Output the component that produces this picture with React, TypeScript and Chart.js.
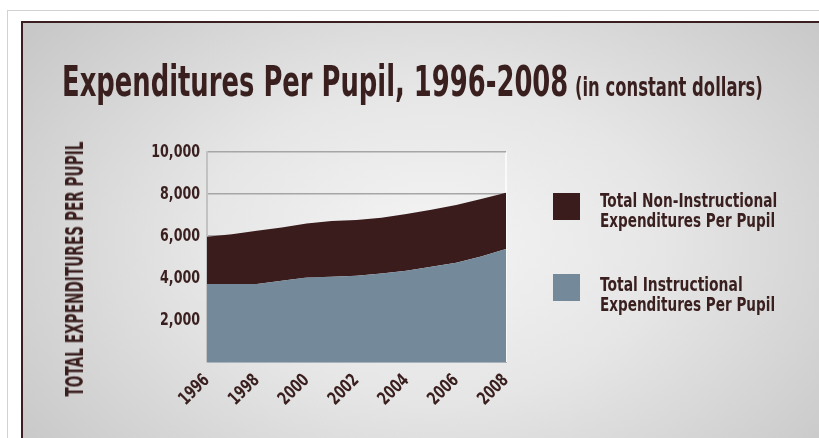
import React, { useEffect, useLayoutEffect, useRef } from 'react';
import { Chart, registerables } from 'chart.js';

Chart.register(...registerables);

// ---- data ----
const years = ['1996', '1997', '1998', '1999', '2000', '2001', '2002', '2003', '2004', '2005', '2006', '2007', '2008'];
const labeledYears = ['1996', '1998', '2000', '2002', '2004', '2006', '2008'];
const instructionalPerPupil = [3710, 3710, 3710, 3870, 4020, 4060, 4110, 4220, 4350, 4540, 4730, 5020, 5380];
const nonInstructionalPerPupil = [2250, 2370, 2540, 2540, 2580, 2650, 2650, 2650, 2700, 2710, 2750, 2740, 2680];
const yTickValues = [0, 2000, 4000, 6000, 8000, 10000];

const titleMain = 'Expenditures Per Pupil, 1996-2008';
const titleSub = '(in constant dollars)';
const yAxisTitle = 'TOTAL EXPENDITURES PER PUPIL';
const legendNonInstr = ['Total Non-Instructional', 'Expenditures Per Pupil'];
const legendInstr = ['Total Instructional', 'Expenditures Per Pupil'];

const BROWN = '#3a1c1c';
const BLUE = '#74899a';
const TEXT = '#3a1f1f';
const FONT = "'DejaVu Sans Condensed', 'Liberation Sans Narrow', sans-serif";
const TICK_CONDENSE = 0.78;

// draws the canvas text of the axes horizontally condensed, like the reference's narrow typeface
const condensePlugin = {
  id: 'condenseText',
  beforeInit(chart: any) {
    const ctx = chart.ctx as any;
    if (ctx.__condensed) return;
    const orig = ctx.fillText;
    ctx.fillText = function (text: string, x: number, y: number) {
      this.save();
      this.translate(x, y);
      this.scale(TICK_CONDENSE, 1);
      orig.call(this, text, 0, 0);
      this.restore();
    };
    ctx.__condensed = true;
  },
};

function FitText(props: { text: string; width: number; size: number; left: number; top: number; center?: boolean }) {
  const ref = useRef<HTMLSpanElement>(null);
  useLayoutEffect(() => {
    const fit = () => {
      const el = ref.current;
      if (!el) return;
      el.style.transform = 'none';
      const w = el.offsetWidth;
      if (w > 0) el.style.transform = `scaleX(${props.width / w})` + (props.center ? ' translateX(-50%)' : '');
    };
    fit();
    if ((document as any).fonts && (document as any).fonts.ready) (document as any).fonts.ready.then(fit);
  }, [props.text, props.width]);
  return (
    <span
      ref={ref}
      style={{
        position: 'absolute',
        left: props.left,
        top: props.top,
        display: 'inline-block',
        whiteSpace: 'nowrap',
        fontFamily: FONT,
        fontWeight: 'bold',
        fontSize: props.size,
        lineHeight: `${props.size}px`,
        color: TEXT,
        transformOrigin: 'left center',
      }}
    >
      {props.text}
    </span>
  );
}

export default function App() {
  const canvasRef = useRef<HTMLCanvasElement>(null);

  useEffect(() => {
    const canvas = canvasRef.current;
    if (!canvas) return;
    const tickFont = { family: FONT, size: 18, weight: 'bold' as const };
    const chart = new Chart(canvas, {
      type: 'line',
      data: {
        labels: years,
        datasets: [
          {
            label: 'Total Instructional Expenditures Per Pupil',
            data: instructionalPerPupil,
            backgroundColor: BLUE,
            borderWidth: 0,
            pointRadius: 0,
            fill: 'origin',
            tension: 0,
          },
          {
            label: 'Total Non-Instructional Expenditures Per Pupil',
            data: nonInstructionalPerPupil,
            backgroundColor: BROWN,
            borderWidth: 0,
            pointRadius: 0,
            fill: '-1',
            tension: 0,
          },
        ],
      },
      plugins: [condensePlugin],
      options: {
        animation: false,
        responsive: false,
        devicePixelRatio: 1,
        layout: { padding: { left: 0, top: 152, right: 313, bottom: 0 } },
        plugins: {
          legend: { display: false },
          tooltip: { enabled: false },
          title: { display: false },
        },
        scales: {
          x: {
            afterFit: (s: any) => {
              s.height = 76;
            },
            grid: {
              display: true,
              drawTicks: false,
              color: (ctx: any) => (ctx.index === years.length - 1 ? 'rgba(255,255,255,0.7)' : 'rgba(0,0,0,0)'),
              lineWidth: 2,
            },
            border: { display: true, color: '#aab3ba', width: 1 },
            ticks: {
              autoSkip: false,
              minRotation: 45,
              maxRotation: 45,
              padding: 8,
              labelOffset: 0,
              color: TEXT,
              font: tickFont,
              callback: (_v: any, i: number) => (labeledYears.includes(years[i]) ? years[i] : ''),
            },
          },
          y: {
            stacked: true,
            min: 0,
            max: 10000,
            afterFit: (s: any) => {
              s.width = 207;
            },
            afterBuildTicks: (s: any) => {
              s.ticks = yTickValues.map((v) => ({ value: v }));
            },
            grid: {
              drawTicks: false,
              color: (ctx: any) => (ctx.tick && ctx.tick.value === 0 ? 'rgba(0,0,0,0)' : '#a6a6a6'),
              lineWidth: 1.5,
            },
            border: { display: true, color: '#c2c2c2', width: 2 },
            ticks: {
              padding: 7,
              color: TEXT,
              font: tickFont,
              callback: (v: any) => (v === 0 ? '' : Number(v).toLocaleString('en-US')),
            },
          },
        },
      },
    });
    return () => chart.destroy();
  }, []);

  return (
    <div style={{ position: 'fixed', left: 0, top: 0, width: 819, height: 438, overflow: 'hidden', background: '#ffffff' }}>
      <div
        style={{
          position: 'absolute',
          left: 7,
          top: 10,
          width: 830,
          height: 450,
          borderLeft: '1px solid #d2d2d2',
          borderTop: '1px solid #d2d2d2',
        }}
      />
      <div
        style={{
          position: 'absolute',
          left: 21,
          top: 21,
          width: 820,
          height: 440,
          borderLeft: '2px solid #3b1f20',
          borderTop: '2px solid #3b1f20',
          background: 'radial-gradient(ellipse 62% 78% at 50% 50%, #f4f4f4 0%, #e6e6e6 45%, #c8c8c8 100%)',
        }}
      />
      <canvas ref={canvasRef} width={819} height={438} style={{ position: 'absolute', left: 0, top: 0, width: 819, height: 438 }} />
      <FitText text={titleMain} width={506} size={43} left={62} top={60} />
      <FitText text={titleSub} width={188} size={26} left={575} top={74} />
      <div style={{ position: 'absolute', left: 74, top: 269, width: 0, height: 0 }}>
        <div style={{ position: 'absolute', left: 0, top: 0, transform: 'rotate(-90deg)', transformOrigin: '0 0' }}>
          <FitText text={yAxisTitle} width={255} size={25} left={0} top={-12} center />
        </div>
      </div>
      <div style={{ position: 'absolute', left: 553, top: 193, width: 27, height: 27, background: BROWN }} />
      <div style={{ position: 'absolute', left: 553, top: 274, width: 27, height: 27, background: BLUE }} />
      <FitText text={legendNonInstr[0]} width={177} size={20} left={600} top={190} />
      <FitText text={legendNonInstr[1]} width={175} size={20} left={600} top={210} />
      <FitText text={legendInstr[0]} width={143} size={20} left={600} top={274} />
      <FitText text={legendInstr[1]} width={175} size={20} left={600} top={294} />
    </div>
  );
}
